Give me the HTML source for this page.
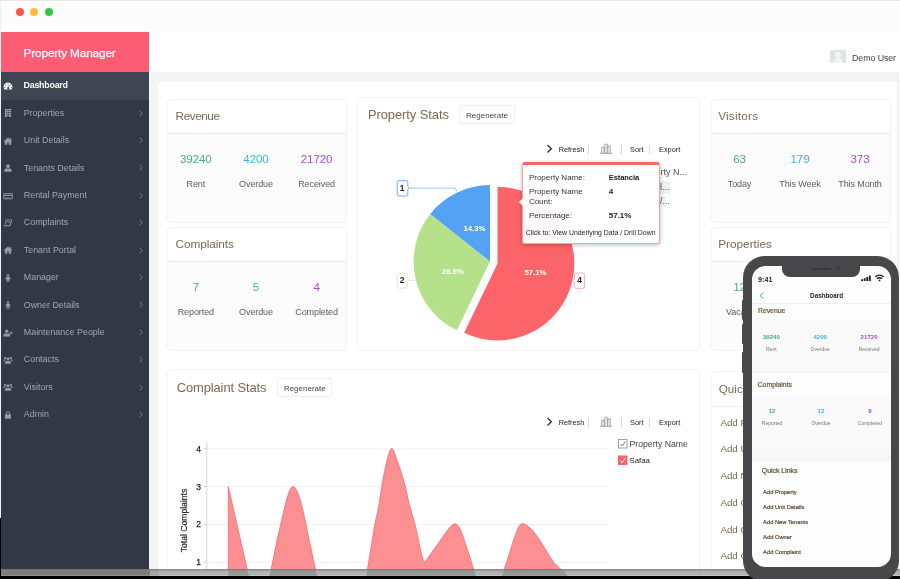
<!DOCTYPE html>
<html><head><meta charset="utf-8"><title>Property Manager</title>
<style>
*{margin:0;padding:0;box-sizing:border-box}
html,body{width:900px;height:579px;overflow:hidden}
body{position:relative;background:#f4f4f4;font-family:"Liberation Sans",sans-serif;color:#555}
.abs{position:absolute}
#w{position:absolute;left:0;top:0;width:900px;height:579px;overflow:hidden;filter:blur(0.45px);will-change:transform}
#titlebar{left:0;top:0;width:900px;height:37px;background:linear-gradient(#fcfcfc 0,#fcfcfc 30px,#fff 37px)}
.tl{position:absolute;top:8.1px;width:8.4px;height:8.4px;border-radius:50%}
#header{left:149px;top:31px;width:751px;height:41px;background:#fff}
#sidebar{left:1px;top:32px;width:148px;height:538px;background:#323846}
#brand{left:0;top:0;width:148px;height:40px;background:#fd5c75;color:#fff;font-size:11.8px;line-height:42px;padding-left:22.6px;letter-spacing:-0.15px}
.row{position:absolute;left:0;width:148px;height:27.4px;color:#a3a6ae;font-size:8.9px;line-height:28.8px;padding-left:22.5px;white-space:nowrap}
.row.act{height:27.700px;background:#3f4552;color:#fff;font-weight:bold;letter-spacing:-0.25px;line-height:27.6px}
.row .chev{position:absolute;left:137.5px;top:10.2px;width:4px;height:7px}
.row .ic{position:absolute;left:2.2px;top:9px;width:10px;height:10px;fill:#9599a3}
.row.act .ic{fill:#fff}
#main{left:157.800px;top:81.700px;width:739.200px;height:500px;background:#fff;border-radius:3px 0 0 0}
.card{position:absolute;background:#fcfcfc;border:1px solid #f3f3f3;border-radius:4px;overflow:hidden}
.card .hd{position:absolute;left:0;top:0;right:0;height:35px;background:#fff;border-bottom:1px solid #efefef}
.tt{position:absolute;font-size:13px;color:#7b6a4e;white-space:nowrap;line-height:16px}
.num{position:absolute;width:60px;margin-left:-30px;text-align:center;font-size:11.6px;line-height:14px}
.lbl{position:absolute;width:70px;margin-left:-35px;text-align:center;font-size:9px;color:#5c5c5c;line-height:12px}
.g{color:#4aa68b}.c{color:#36b5d8}.p{color:#aa47d6}
.btn{position:absolute;border:1px solid #efefef;border-radius:2px;background:#fff;font-size:8.4px;color:#444;text-align:center}
.tb{position:absolute;font-size:7.6px;color:#222;white-space:nowrap;line-height:10px}
.sep{position:absolute;width:1px;height:9px;background:#d8d8d8}
</style></head><body><div id="w">
<div id="titlebar" class="abs"><div class="tl" style="left:16.1px;background:#fc5652"></div><div class="tl" style="left:30px;background:#fdbc3f"></div><div class="tl" style="left:44.5px;background:#32c748"></div></div>
<div id="header" class="abs"></div>
<div class="abs" style="left:830.300px;top:50px;width:15.300px;height:13.400px;background:#e2e3e5;overflow:hidden"><div class="abs" style="left:4.600px;top:1.600px;width:6px;height:6.500px;border-radius:50%;background:#f5f5f6"></div><div class="abs" style="left:2.300px;top:7.600px;width:10.600px;height:10px;border-radius:5px 5px 0 0;background:#f5f5f6"></div></div>
<div class="abs" style="left:0;top:0;width:900px;height:1px;background:#e6e6e6"></div>
<div class="abs" style="left:897px;top:72px;width:2px;height:497px;background:#f0f0f0"></div><div class="abs" style="left:899px;top:72px;width:1px;height:497px;background:#fff"></div>
<div id="sidebar" class="abs"><div id="brand" class="abs"></div>
<div class="row act" style="top:40.0px"><svg class="ic" viewBox="0 0 16 16"><path d="M8 2.5a7 7 0 0 0-6 10.6c.2.3.5.4.8.4h10.4c.3 0 .6-.1.8-.4A7 7 0 0 0 8 2.5zm0 1.6a.9.9 0 1 1 0 1.8.9.9 0 0 1 0-1.8zM4.4 5.5a.9.9 0 1 1 0 1.8.9.9 0 0 1 0-1.8zm7.2 0a.9.9 0 1 1 0 1.8.9.9 0 0 1 0-1.8zM3 9.2a.9.9 0 1 1 0 1.8.9.9 0 0 1 0-1.8zm10 0a.9.9 0 1 1 0 1.8.9.9 0 0 1 0-1.8zM9.6 6.2l.9.3-1.2 3.6a1.7 1.7 0 1 1-.9-.3z"/></svg></div>
<div class="row" style="top:67.4px"><svg class="ic" viewBox="0 0 16 16"><path d="M3 1.5h10v13H9.3v-2.6H6.7v2.6H3zm2 1.8v1.6h1.6V3.300zm2.700 0v1.6h1.600V3.300zm2.700 0v1.6H12V3.300zM5 6.2v1.600h1.600V6.200zm2.700 0v1.600h1.600V6.200zm2.700 0v1.600H12V6.200zM5 9v1.600h1.600V9zm2.700 0v1.600h1.600V9zm2.700 0v1.600H12V9z"/></svg><svg class="chev" viewBox="0 0 4 7"><path d="M0.700 0.700L3.200 3.500L0.700 6.300" fill="none" stroke="#7d8290" stroke-width="0.900"/></svg></div>
<div class="row" style="top:94.8px"><svg class="ic" viewBox="0 0 16 16"><path d="M8 2.200L1 8.300l.900 1L3 8.400V14h3.800v-3.800h2.400V14H13V8.400l1.100.900.900-1-2-1.700V3h-1.800v2z"/></svg><svg class="chev" viewBox="0 0 4 7"><path d="M0.700 0.700L3.200 3.500L0.700 6.300" fill="none" stroke="#7d8290" stroke-width="0.900"/></svg></div>
<div class="row" style="top:122.2px"><svg class="ic" viewBox="0 0 16 16"><path d="M8 2a3 3 0 1 1 0 6 3 3 0 0 1 0-6zM3 14c-.6 0-1-.4-1-1 0-2.500 1.500-4.300 3.600-4.600.700.500 1.500.800 2.400.800s1.700-.300 2.400-.800C12.500 8.700 14 10.500 14 13c0 .600-.400 1-1 1z"/></svg><svg class="chev" viewBox="0 0 4 7"><path d="M0.700 0.700L3.200 3.500L0.700 6.300" fill="none" stroke="#7d8290" stroke-width="0.900"/></svg></div>
<div class="row" style="top:149.6px"><svg class="ic" viewBox="0 0 16 16"><path d="M1.500 3h13c.600 0 1 .400 1 1v8c0 .600-.400 1-1 1h-13c-.600 0-1-.400-1-1V4c0-.600.400-1 1-1zm.300 1.300v1.500h12.400V4.300zm0 3.700v3.700h12.400V8zM3 9.800h2.500v1H3zm3.500 0h3.500v1H6.500z"/></svg><svg class="chev" viewBox="0 0 4 7"><path d="M0.700 0.700L3.200 3.500L0.700 6.300" fill="none" stroke="#7d8290" stroke-width="0.900"/></svg></div>
<div class="row" style="top:177.0px"><svg class="ic" viewBox="0 0 16 16"><path d="M5.200 2.500h8.300c.900 0 1.300.700 1.100 1.400l-2.300 7.600c-.300.900-1 1.500-2 1.500H2.800c-1 0-1.800-.800-1.500-1.800l.100-.300c.100.500.600.800 1.200.800h7c.600 0 1-.300 1.200-.900l2-6.600c.100-.400-.100-.700-.500-.700H5.800L3.700 10.300H2.500l2-6.500c.200-.800.500-1.300.700-1.300zm1.300 2.500h5l-.300 1h-5zm-.600 2h5l-.300 1h-5z"/></svg><svg class="chev" viewBox="0 0 4 7"><path d="M0.700 0.700L3.200 3.500L0.700 6.300" fill="none" stroke="#7d8290" stroke-width="0.900"/></svg></div>
<div class="row" style="top:204.4px"><svg class="ic" viewBox="0 0 16 16"><path d="M8 2.200L1 8.300l.900 1L3 8.400V14h3.800v-3.800h2.400V14H13V8.400l1.100.900.900-1-2-1.700V3h-1.800v2z"/></svg><svg class="chev" viewBox="0 0 4 7"><path d="M0.700 0.700L3.200 3.500L0.700 6.300" fill="none" stroke="#7d8290" stroke-width="0.900"/></svg></div>
<div class="row" style="top:231.8px"><svg class="ic" viewBox="0 0 16 16"><path d="M8 1.500a1.800 1.800 0 1 1 0 3.600 1.800 1.800 0 0 1 0-3.600zM6 5.600h4c.900 0 1.500.600 1.500 1.500v3.200h-1.300V14.500H8.500v-3.800h-1v3.800H5.800v-4.200H4.500V7.100c0-.900.600-1.500 1.500-1.500z"/></svg><svg class="chev" viewBox="0 0 4 7"><path d="M0.700 0.700L3.200 3.500L0.700 6.300" fill="none" stroke="#7d8290" stroke-width="0.900"/></svg></div>
<div class="row" style="top:259.2px"><svg class="ic" viewBox="0 0 16 16"><path d="M8 1.500a1.800 1.800 0 1 1 0 3.600 1.800 1.800 0 0 1 0-3.600zM6 5.600h4c.900 0 1.500.600 1.500 1.500v3.200h-1.300V14.500H8.500v-3.800h-1v3.800H5.800v-4.200H4.500V7.100c0-.900.600-1.500 1.500-1.500z"/></svg><svg class="chev" viewBox="0 0 4 7"><path d="M0.700 0.700L3.200 3.500L0.700 6.300" fill="none" stroke="#7d8290" stroke-width="0.900"/></svg></div>
<div class="row" style="top:286.6px"><svg class="ic" viewBox="0 0 16 16"><path d="M6 2.500a2.800 2.800 0 1 1 0 5.600A2.800 2.800 0 0 1 6 2.500zM1.500 13.500c-.500 0-.900-.400-.900-.900 0-2.300 1.300-3.900 3.200-4.200.600.500 1.400.700 2.200.700s1.600-.200 2.200-.700c1.900.300 3.200 1.900 3.200 4.200 0 .500-.400.900-.900.900zM12.300 5.500h1.400v1.800h1.800v1.400h-1.800v1.800h-1.400V8.700h-1.800V7.300h1.800z"/></svg><svg class="chev" viewBox="0 0 4 7"><path d="M0.700 0.700L3.200 3.500L0.700 6.300" fill="none" stroke="#7d8290" stroke-width="0.900"/></svg></div>
<div class="row" style="top:314.0px"><svg class="ic" viewBox="0 0 16 16"><path d="M8 3.500a2.500 2.500 0 1 1 0 5 2.500 2.500 0 0 1 0-5zM3.300 3a1.800 1.800 0 1 1 0 3.600 1.800 1.800 0 0 1 0-3.600zm9.400 0a1.800 1.800 0 1 1 0 3.600 1.800 1.800 0 0 1 0-3.600zM4 14c-.600 0-1-.400-1-1 0-2.200 1.200-3.700 2.900-4 .600.500 1.300.700 2.100.700s1.500-.200 2.100-.700c1.700.300 2.900 1.800 2.900 4 0 .600-.400 1-1 1zM.500 9.500c0-1.500.800-2.500 2-2.700.400.300.800.400 1.300.400-.700.700-1.200 1.500-1.400 2.600H1.200c-.400 0-.700-.100-.700-.300zm15 0c0 .200-.300.300-.700.300h-1.200c-.200-1.100-.700-1.900-1.400-2.600.500 0 .900-.100 1.300-.400 1.200.200 2 1.200 2 2.700z"/></svg><svg class="chev" viewBox="0 0 4 7"><path d="M0.700 0.700L3.200 3.500L0.700 6.300" fill="none" stroke="#7d8290" stroke-width="0.900"/></svg></div>
<div class="row" style="top:341.4px"><svg class="ic" viewBox="0 0 16 16"><path d="M8 3.500a2.500 2.500 0 1 1 0 5 2.500 2.500 0 0 1 0-5zM3.300 3a1.800 1.800 0 1 1 0 3.600 1.800 1.800 0 0 1 0-3.600zm9.400 0a1.800 1.800 0 1 1 0 3.600 1.800 1.800 0 0 1 0-3.600zM4 14c-.600 0-1-.400-1-1 0-2.200 1.200-3.700 2.900-4 .600.500 1.300.700 2.100.700s1.500-.200 2.100-.700c1.700.300 2.900 1.800 2.900 4 0 .600-.400 1-1 1zM.500 9.500c0-1.500.800-2.500 2-2.700.400.300.800.400 1.300.400-.700.700-1.200 1.500-1.400 2.600H1.200c-.400 0-.700-.100-.700-.300zm15 0c0 .200-.300.300-.700.300h-1.200c-.200-1.100-.700-1.900-1.400-2.600.500 0 .900-.100 1.300-.400 1.200.200 2 1.200 2 2.700z"/></svg><svg class="chev" viewBox="0 0 4 7"><path d="M0.700 0.700L3.200 3.500L0.700 6.300" fill="none" stroke="#7d8290" stroke-width="0.900"/></svg></div>
<div class="row" style="top:368.8px"><svg class="ic" viewBox="0 0 16 16"><path d="M8 1.800c1.900 0 3.300 1.400 3.300 3.300V7h.700c.500 0 .900.400.900.900v5c0 .500-.400.900-.900.900H4c-.500 0-.900-.400-.900-.900v-5c0-.500.400-.900.900-.900h.700V5.100C4.700 3.200 6.100 1.800 8 1.800zm0 1.600c-1 0-1.700.700-1.700 1.700V7h3.400V5.100c0-1-.700-1.700-1.700-1.700z"/></svg><svg class="chev" viewBox="0 0 4 7"><path d="M0.700 0.700L3.200 3.500L0.700 6.300" fill="none" stroke="#7d8290" stroke-width="0.900"/></svg></div>
</div>
<div id="main" class="abs"></div>
<div class="card" style="left:167px;top:98.8px;width:180px;height:124px"><div class="hd" style="height:34.5px"></div></div>
<div class="abs" style="left:175.60px;top:109px;font-size:11.8px;line-height:14px;color:#7b6a4e;font-weight:normal;white-space:nowrap;letter-spacing:-0.48px;">Revenue</div>
<div class="abs" style="left:45.85px;width:300px;text-align:center;top:153px;font-size:11.6px;line-height:12px;color:#4aa68b;font-weight:normal;white-space:nowrap;letter-spacing:-0.1px;">39240</div>
<div class="abs" style="left:45.85px;width:300px;text-align:center;top:179px;font-size:9px;line-height:10px;color:#5c5c5c;font-weight:normal;white-space:nowrap;letter-spacing:-0.1px;">Rent</div>
<div class="abs" style="left:106.00px;width:300px;text-align:center;top:153px;font-size:11.6px;line-height:12px;color:#36b5d8;font-weight:normal;white-space:nowrap;letter-spacing:-0.1px;">4200</div>
<div class="abs" style="left:106.00px;width:300px;text-align:center;top:179px;font-size:9px;line-height:10px;color:#5c5c5c;font-weight:normal;white-space:nowrap;letter-spacing:-0.1px;">Overdue</div>
<div class="abs" style="left:166.60px;width:300px;text-align:center;top:153px;font-size:11.6px;line-height:12px;color:#aa47d6;font-weight:normal;white-space:nowrap;letter-spacing:-0.1px;">21720</div>
<div class="abs" style="left:166.60px;width:300px;text-align:center;top:179px;font-size:9px;line-height:10px;color:#5c5c5c;font-weight:normal;white-space:nowrap;letter-spacing:-0.1px;">Received</div>
<div class="card" style="left:167px;top:226.6px;width:180px;height:124px"><div class="hd" style="height:34.5px"></div></div>
<div class="abs" style="left:175.60px;top:237px;font-size:11.8px;line-height:14px;color:#7b6a4e;font-weight:normal;white-space:nowrap;letter-spacing:-0.07px;">Complaints</div>
<div class="abs" style="left:45.85px;width:300px;text-align:center;top:281px;font-size:11.6px;line-height:12px;color:#4aa68b;font-weight:normal;white-space:nowrap;letter-spacing:-0.1px;">7</div>
<div class="abs" style="left:45.85px;width:300px;text-align:center;top:307px;font-size:9px;line-height:10px;color:#5c5c5c;font-weight:normal;white-space:nowrap;letter-spacing:-0.1px;">Reported</div>
<div class="abs" style="left:106.00px;width:300px;text-align:center;top:281px;font-size:11.6px;line-height:12px;color:#36b5d8;font-weight:normal;white-space:nowrap;letter-spacing:-0.1px;">5</div>
<div class="abs" style="left:106.00px;width:300px;text-align:center;top:307px;font-size:9px;line-height:10px;color:#5c5c5c;font-weight:normal;white-space:nowrap;letter-spacing:-0.1px;">Overdue</div>
<div class="abs" style="left:166.60px;width:300px;text-align:center;top:281px;font-size:11.6px;line-height:12px;color:#aa47d6;font-weight:normal;white-space:nowrap;letter-spacing:-0.1px;">4</div>
<div class="abs" style="left:166.60px;width:300px;text-align:center;top:307px;font-size:9px;line-height:10px;color:#5c5c5c;font-weight:normal;white-space:nowrap;letter-spacing:-0.1px;">Completed</div>
<div class="card" style="left:710.5px;top:98.8px;width:180px;height:124px"><div class="hd" style="height:34.5px"></div></div>
<div class="abs" style="left:718.20px;top:109px;font-size:11.8px;line-height:14px;color:#7b6a4e;font-weight:normal;white-space:nowrap;letter-spacing:0.2px;">Visitors</div>
<div class="abs" style="left:589.50px;width:300px;text-align:center;top:153px;font-size:11.6px;line-height:12px;color:#4aa68b;font-weight:normal;white-space:nowrap;letter-spacing:-0.1px;">63</div>
<div class="abs" style="left:589.50px;width:300px;text-align:center;top:179px;font-size:9px;line-height:10px;color:#5c5c5c;font-weight:normal;white-space:nowrap;letter-spacing:-0.1px;">Today</div>
<div class="abs" style="left:650.00px;width:300px;text-align:center;top:153px;font-size:11.6px;line-height:12px;color:#36b5d8;font-weight:normal;white-space:nowrap;letter-spacing:-0.1px;">179</div>
<div class="abs" style="left:650.00px;width:300px;text-align:center;top:179px;font-size:9px;line-height:10px;color:#5c5c5c;font-weight:normal;white-space:nowrap;letter-spacing:-0.1px;">This Week</div>
<div class="abs" style="left:710.00px;width:300px;text-align:center;top:153px;font-size:11.6px;line-height:12px;color:#aa47d6;font-weight:normal;white-space:nowrap;letter-spacing:-0.1px;">373</div>
<div class="abs" style="left:710.00px;width:300px;text-align:center;top:179px;font-size:9px;line-height:10px;color:#5c5c5c;font-weight:normal;white-space:nowrap;letter-spacing:-0.1px;">This Month</div>
<div class="card" style="left:710.5px;top:226.5px;width:180px;height:124px"><div class="hd" style="height:34.5px"></div></div>
<div class="abs" style="left:718.20px;top:237px;font-size:11.8px;line-height:14px;color:#7b6a4e;font-weight:normal;white-space:nowrap;">Properties</div>
<div class="abs" style="left:589.50px;width:300px;text-align:center;top:281px;font-size:11.6px;line-height:12px;color:#4aa68b;font-weight:normal;white-space:nowrap;letter-spacing:-0.1px;">12</div>
<div class="abs" style="left:589.50px;width:300px;text-align:center;top:307px;font-size:9px;line-height:10px;color:#5c5c5c;font-weight:normal;white-space:nowrap;letter-spacing:-0.1px;">Vacant</div>
<div class="abs" style="left:650.00px;width:300px;text-align:center;top:281px;font-size:11.6px;line-height:12px;color:#36b5d8;font-weight:normal;white-space:nowrap;letter-spacing:-0.1px;">5</div>
<div class="abs" style="left:650.00px;width:300px;text-align:center;top:307px;font-size:9px;line-height:10px;color:#5c5c5c;font-weight:normal;white-space:nowrap;letter-spacing:-0.1px;">Occupied</div>
<div class="abs" style="left:710.00px;width:300px;text-align:center;top:281px;font-size:11.6px;line-height:12px;color:#aa47d6;font-weight:normal;white-space:nowrap;letter-spacing:-0.1px;">17</div>
<div class="abs" style="left:710.00px;width:300px;text-align:center;top:307px;font-size:9px;line-height:10px;color:#5c5c5c;font-weight:normal;white-space:nowrap;letter-spacing:-0.1px;">Total</div>
<div class="abs" style="left:23.60px;top:46px;font-size:11.8px;line-height:14px;color:#fff;font-weight:normal;white-space:nowrap;letter-spacing:-0.15px;-webkit-text-stroke:0.250px #fff">Property Manager</div>
<div class="abs" style="left:23.60px;top:80px;font-size:8.9px;line-height:10px;color:#fff;font-weight:bold;white-space:nowrap;letter-spacing:-0.25px;">Dashboard</div>
<div class="abs" style="left:23.80px;top:108px;font-size:8.9px;line-height:10px;color:#a3a6ae;font-weight:normal;white-space:nowrap;">Properties</div>
<div class="abs" style="left:23.80px;top:135px;font-size:8.9px;line-height:10px;color:#a3a6ae;font-weight:normal;white-space:nowrap;">Unit Details</div>
<div class="abs" style="left:23.80px;top:163px;font-size:8.9px;line-height:10px;color:#a3a6ae;font-weight:normal;white-space:nowrap;">Tenants Details</div>
<div class="abs" style="left:23.80px;top:190px;font-size:8.9px;line-height:10px;color:#a3a6ae;font-weight:normal;white-space:nowrap;">Rental Payment</div>
<div class="abs" style="left:23.80px;top:217px;font-size:8.9px;line-height:10px;color:#a3a6ae;font-weight:normal;white-space:nowrap;">Complaints</div>
<div class="abs" style="left:23.80px;top:245px;font-size:8.9px;line-height:10px;color:#a3a6ae;font-weight:normal;white-space:nowrap;">Tenant Portal</div>
<div class="abs" style="left:23.80px;top:272px;font-size:8.9px;line-height:10px;color:#a3a6ae;font-weight:normal;white-space:nowrap;">Manager</div>
<div class="abs" style="left:23.80px;top:300px;font-size:8.9px;line-height:10px;color:#a3a6ae;font-weight:normal;white-space:nowrap;">Owner Details</div>
<div class="abs" style="left:23.80px;top:327px;font-size:8.9px;line-height:10px;color:#a3a6ae;font-weight:normal;white-space:nowrap;">Maintenance People</div>
<div class="abs" style="left:23.80px;top:354px;font-size:8.9px;line-height:10px;color:#a3a6ae;font-weight:normal;white-space:nowrap;">Contacts</div>
<div class="abs" style="left:23.80px;top:382px;font-size:8.9px;line-height:10px;color:#a3a6ae;font-weight:normal;white-space:nowrap;">Visitors</div>
<div class="abs" style="left:23.80px;top:409px;font-size:8.9px;line-height:10px;color:#a3a6ae;font-weight:normal;white-space:nowrap;">Admin</div>
<div class="abs" style="left:852.00px;top:53px;font-size:8.9px;line-height:10px;color:#444;font-weight:normal;white-space:nowrap;letter-spacing:-0.1px;">Demo User</div>
<div class="card" style="left:357px;top:97px;width:343px;height:254px;background:#fff"></div>
<div class="abs" style="left:367.90px;top:107px;font-size:12.9px;line-height:15px;color:#7b6a4e;font-weight:normal;white-space:nowrap;letter-spacing:-0.05px;">Property Stats</div>
<div class="btn" style="left:459.400px;top:104.600px;width:55.200px;height:19.600px"></div>
<div class="abs" style="left:466.10px;top:111px;font-size:8px;line-height:9px;color:#444;font-weight:normal;white-space:nowrap;">Regenerate</div>
<svg class="abs" style="left:546px;top:144.3px;width:7px;height:9.400px" viewBox="0 0 7 9.400"><path d="M1.500 0.900L5.300 4.700L1.500 8.500" fill="none" stroke="#333" stroke-width="1.400"/></svg>
<div class="abs" style="left:558.70px;top:145px;font-size:7.3px;line-height:9px;color:#222;font-weight:normal;white-space:nowrap;">Refresh</div>
<div class="sep" style="left:588px;top:144.8px"></div>
<svg class="abs" style="left:600px;top:143px;width:12px;height:11px" viewBox="0 0 12 11"><path d="M0 10.300h12M1.800 10.300V4.300h2.300v6M4.800 10.300V1.200h2.400v9.100M7.900 10.300V3h2.300v7.300" fill="none" stroke="#999" stroke-width="0.900"/></svg>
<div class="sep" style="left:620.500px;top:144.8px"></div>
<div class="abs" style="left:630.10px;top:145px;font-size:7.3px;line-height:9px;color:#222;font-weight:normal;white-space:nowrap;">Sort</div>
<div class="sep" style="left:649px;top:144.8px"></div>
<div class="abs" style="left:659.10px;top:145px;font-size:7.3px;line-height:9px;color:#222;font-weight:normal;white-space:nowrap;">Export</div>
<div class="abs" style="left:636.50px;top:167px;font-size:9px;line-height:10px;color:#555;font-weight:normal;white-space:nowrap;">Property N...</div>
<div class="abs" style="left:622px;top:181px;width:48px;height:12.500px;background:#efefef"></div>
<div class="abs" style="left:660.00px;top:182px;font-size:9px;line-height:10px;color:#555;font-weight:normal;white-space:nowrap;">l...</div>
<div class="abs" style="left:630px;top:196px;width:36px;height:11px;background:#f4f4f4"></div>
<div class="abs" style="left:660.00px;top:196px;font-size:9px;line-height:10px;color:#555;font-weight:normal;white-space:nowrap;">/...</div>
<div class="abs" style="left:624px;top:212px;width:36px;height:6px;background:#f3f3f3"></div>
<svg class="abs" style="left:0;top:0;width:900px;height:579px" viewBox="0 0 900 579">
<path d="M497.50 263.60L497.50 186.80A76.8 76.8 0 1 1 464.19 332.80Z" fill="#fb6468"/>
<path d="M490.00 261.50L456.86 330.34A76.4 76.4 0 0 1 430.26 213.88Z" fill="#b6e18b"/>
<path d="M490.00 261.50L430.26 213.88A76.4 76.4 0 0 1 490.00 185.10Z" fill="#53a2f4"/>
<path d="M408 188.200H455.300L456.800 191.500" fill="none" stroke="#86bbf5" stroke-width="0.800"/>
<path d="M399 180.600h7a1.800 1.800 0 0 1 1.800 1.800v4.300l1.300 1.500l-1.300 1.500v4.500a1.800 1.800 0 0 1 -1.800 1.800h-7a1.800 1.800 0 0 1 -1.800 -1.800v-11.800a1.800 1.800 0 0 1 1.800 -1.800z" fill="#fff" stroke="#6dadf4" stroke-width="1"/>
<path d="M408.500 280.300H415" fill="none" stroke="#d5e8bd" stroke-width="0.800"/>
<path d="M399 273.200h6.600a1.800 1.800 0 0 1 1.800 1.800v3.800l1.300 1.500l-1.300 1.500v4.600a1.800 1.800 0 0 1 -1.800 1.800h-6.600a1.800 1.800 0 0 1 -1.800 -1.800v-11.400a1.800 1.800 0 0 1 1.800 -1.800z" fill="#fff" stroke="#dde9c8" stroke-width="0.900"/>
<path d="M576.200 273h6.600a1.800 1.800 0 0 1 1.800 1.800v11.800a1.800 1.800 0 0 1 -1.800 1.800h-6.600a1.800 1.800 0 0 1 -1.800 -1.800v-4.500l-1.400 -1.500l1.400 -1.500v-4.300a1.800 1.800 0 0 1 1.800 -1.800z" fill="#fff" stroke="#f2a9ac" stroke-width="0.900"/>
<g font-family="Liberation Sans, sans-serif" font-size="8.400" font-weight="bold" fill="#222" text-anchor="middle"><text x="402.200" y="190.900">1</text><text x="402.100" y="283.300">2</text><text x="579.700" y="283.200">4</text></g>
<g font-family="Liberation Sans, sans-serif" font-size="7.800" font-weight="bold" fill="#fff" text-anchor="middle"><text x="474.500" y="230.500">14.3%</text><text x="453" y="274">28.6%</text><text x="535.500" y="275">57.1%</text></g>
</svg>
<div class="abs" style="left:522px;top:162.300px;width:138px;height:81.700px;background:rgba(255,255,255,0.965);border:1px solid #f4a3a5;border-top:3px solid #f2686c;border-radius:3px;box-shadow:0 1px 4px rgba(0,0,0,0.280)"></div>
<div class="abs" style="left:518.500px;top:198px;width:0;height:0;border-top:4px solid transparent;border-bottom:4px solid transparent;border-right:4px solid #fff"></div>
<div class="abs" style="left:528.90px;top:173px;font-size:8px;line-height:9px;color:#333;font-weight:normal;white-space:nowrap;">Property Name:</div>
<div class="abs" style="left:608.70px;top:173px;font-size:7.6px;line-height:9px;color:#222;font-weight:bold;white-space:nowrap;letter-spacing:-0.1px;">Estancia</div>
<div class="abs" style="left:528.90px;top:187px;font-size:8px;line-height:9px;color:#333;font-weight:normal;white-space:nowrap;">Property Name</div>
<div class="abs" style="left:608.70px;top:187px;font-size:8px;line-height:9px;color:#222;font-weight:bold;white-space:nowrap;">4</div>
<div class="abs" style="left:528.90px;top:197px;font-size:8px;line-height:9px;color:#333;font-weight:normal;white-space:nowrap;">Count:</div>
<div class="abs" style="left:528.90px;top:211px;font-size:8px;line-height:9px;color:#333;font-weight:normal;white-space:nowrap;">Percentage:</div>
<div class="abs" style="left:608.70px;top:211px;font-size:8px;line-height:9px;color:#222;font-weight:bold;white-space:nowrap;">57.1%</div>
<div class="abs" style="left:525.80px;top:229px;font-size:6.9px;line-height:7px;color:#222;font-weight:normal;white-space:nowrap;">Click to: View Underlying Data / Drill Down</div>
<div class="card" style="left:167px;top:369px;width:533px;height:230px;background:#fff"></div>
<div class="abs" style="left:176.80px;top:380px;font-size:12.9px;line-height:15px;color:#7b6a4e;font-weight:normal;white-space:nowrap;letter-spacing:-0.1px;">Complaint Stats</div>
<div class="btn" style="left:276.600px;top:377.700px;width:55.500px;height:19.500px"></div>
<div class="abs" style="left:283.90px;top:384px;font-size:8px;line-height:9px;color:#444;font-weight:normal;white-space:nowrap;">Regenerate</div>
<svg class="abs" style="left:546px;top:417.3px;width:7px;height:9.400px" viewBox="0 0 7 9.400"><path d="M1.500 0.900L5.300 4.700L1.500 8.500" fill="none" stroke="#333" stroke-width="1.400"/></svg>
<div class="abs" style="left:558.70px;top:418px;font-size:7.3px;line-height:9px;color:#222;font-weight:normal;white-space:nowrap;">Refresh</div>
<div class="sep" style="left:588px;top:417.8px"></div>
<svg class="abs" style="left:600px;top:416px;width:12px;height:11px" viewBox="0 0 12 11"><path d="M0 10.300h12M1.800 10.300V4.300h2.300v6M4.800 10.300V1.200h2.400v9.100M7.900 10.300V3h2.300v7.300" fill="none" stroke="#999" stroke-width="0.900"/></svg>
<div class="sep" style="left:620.500px;top:417.8px"></div>
<div class="abs" style="left:630.10px;top:418px;font-size:7.3px;line-height:9px;color:#222;font-weight:normal;white-space:nowrap;">Sort</div>
<div class="sep" style="left:649px;top:417.8px"></div>
<div class="abs" style="left:659.10px;top:418px;font-size:7.3px;line-height:9px;color:#222;font-weight:normal;white-space:nowrap;">Export</div>
<svg class="abs" style="left:0;top:0;width:900px;height:579px" viewBox="0 0 900 579">
<path d="M207 562.2H608" stroke="#f0f0f0" stroke-width="1"/><path d="M204 562.2H207" stroke="#ccc" stroke-width="1"/>
<path d="M207 524.4H608" stroke="#f0f0f0" stroke-width="1"/><path d="M204 524.4H207" stroke="#ccc" stroke-width="1"/>
<path d="M207 486.6H608" stroke="#f0f0f0" stroke-width="1"/><path d="M204 486.6H207" stroke="#ccc" stroke-width="1"/>
<path d="M207 448.8H608" stroke="#f0f0f0" stroke-width="1"/><path d="M204 448.8H207" stroke="#ccc" stroke-width="1"/>
<path d="M206.800 441.300V579" stroke="#d8d8d8" stroke-width="1"/>
<path d="M228.300 600.0L228.300 486.6L247.100 568.600L254.500 600.0Z" fill="#fc8f92" stroke="#f06b70" stroke-width="0.800"/>
<path d="M264.8 600.0C265.9 594.8 269.3 578.1 271.3 568.5C273.3 558.9 275.1 549.4 276.7 542.1C278.2 534.8 279.3 530.4 280.6 524.7C281.9 519.0 283.3 512.9 284.5 508.0C285.7 503.1 286.9 498.7 287.9 495.5C288.9 492.3 289.7 490.1 290.6 488.6C291.5 487.1 292.3 486.5 293.1 486.5C293.9 486.5 294.7 487.1 295.6 488.6C296.6 490.1 297.7 492.3 298.8 495.5C299.9 498.7 301.2 503.1 302.4 508.0C303.6 512.9 304.8 519.0 306.0 524.7C307.2 530.4 308.1 534.8 309.7 542.1C311.2 549.4 313.2 558.9 315.3 568.5C317.4 578.1 320.9 594.8 322.0 600.0Z" fill="#fc8f92" stroke="#f06b70" stroke-width="0.800"/>
<path d="M362.5 600.0C363.6 593.3 366.9 572.5 369.0 560.0C371.1 547.5 373.3 533.1 374.8 524.7C376.3 516.3 376.9 515.9 378.1 509.5C379.3 503.1 380.7 493.1 381.8 486.5C382.9 479.9 383.8 474.9 384.8 470.2C385.8 465.5 386.8 461.3 387.6 458.1C388.4 454.9 389.1 452.6 389.8 451.0C390.5 449.4 391.0 448.5 391.7 448.5C392.4 448.5 393.0 449.4 393.8 451.0C394.6 452.6 395.2 454.9 396.3 458.1C397.4 461.3 399.0 465.5 400.5 470.2C402.0 474.9 404.0 481.4 405.3 486.5C406.6 491.6 407.5 496.7 408.4 500.5C409.3 504.3 409.6 505.1 410.8 509.5C412.0 513.9 414.2 521.1 415.6 526.8C417.0 532.5 418.2 538.7 419.3 543.7C420.4 548.7 421.4 553.9 422.3 557.0C423.2 560.1 424.1 561.5 424.5 562.4C424.9 561.9 425.9 560.8 426.8 559.5C427.7 558.2 428.0 557.5 429.9 554.9C431.8 552.3 435.3 547.5 438.0 543.7C440.7 540.0 443.8 535.2 445.9 532.4C448.0 529.6 449.2 528.1 450.4 526.8C451.6 525.5 452.2 525.0 453.0 524.5C453.8 524.0 454.4 523.8 455.1 523.8C455.8 523.8 456.4 524.1 457.0 524.6C457.6 525.1 458.0 525.5 458.8 526.8C459.6 528.1 460.5 529.6 461.6 532.4C462.7 535.2 464.2 540.0 465.5 543.7C466.8 547.5 467.9 550.8 469.2 554.9C470.5 559.0 471.1 560.9 473.4 568.4C475.7 575.9 481.4 594.7 483.0 600.0Z" fill="#fc8f92" stroke="#f06b70" stroke-width="0.800"/>
<path d="M495.0 600.0C496.6 594.7 502.2 575.9 504.5 568.4C506.8 560.9 507.7 559.0 509.0 554.9C510.3 550.8 511.2 547.5 512.4 543.7C513.6 540.0 515.2 535.2 516.3 532.4C517.4 529.6 518.0 528.1 518.8 526.8C519.5 525.4 520.1 524.8 520.8 524.3C521.5 523.8 522.0 523.7 522.8 523.7C523.6 523.8 524.5 524.1 525.5 524.6C526.5 525.1 527.2 525.5 528.7 526.8C530.2 528.1 532.1 529.6 534.3 532.4C536.5 535.2 539.7 540.0 542.1 543.7C544.5 547.5 546.9 551.8 548.9 554.9C550.9 558.0 552.1 560.1 553.9 562.4C555.7 564.6 557.9 566.5 559.9 568.4C561.9 570.3 562.6 568.7 566.0 574.0C569.4 579.3 577.7 595.7 580.0 600.0Z" fill="#fc8f92" stroke="#f06b70" stroke-width="0.800"/>
<g font-family="Liberation Sans, sans-serif" font-size="8.500" fill="#222" stroke="#222" stroke-width="0.250" text-anchor="middle">
<text x="198.500" y="565.2">1</text>
<text x="198.500" y="527.4">2</text>
<text x="198.500" y="489.6">3</text>
<text x="198.500" y="451.8">4</text>
</g>
<text transform="translate(187.300,520.500) rotate(-90)" font-family="Liberation Sans, sans-serif" font-size="8.600" fill="#222" stroke="#222" stroke-width="0.150" text-anchor="middle">Total Complaints</text>
<rect x="618.500" y="439.500" width="8.500" height="8.500" fill="#fff" stroke="#888" stroke-width="0.800"/><path d="M620.500 444L622.300 446L625.300 441.500" fill="none" stroke="#555" stroke-width="0.800"/>
<rect x="618" y="455.500" width="9.500" height="9.500" fill="#f4666b"/><path d="M620.500 460.500L622.300 462.500L625.300 458" fill="none" stroke="#fff" stroke-width="0.900"/>
<g font-family="Liberation Sans, sans-serif" fill="#444"><text x="629.500" y="447.300" font-size="8.700">Property Name</text><text x="629.500" y="462.700" font-size="7.800" fill="#222">Safaa</text></g>
</svg>
<div class="card" style="left:710.500px;top:370.800px;width:180px;height:230px;background:#fff"><div class="hd" style="height:35px"></div></div>
<div class="abs" style="left:718.70px;top:382px;font-size:11.7px;line-height:13px;color:#7b6a4e;font-weight:normal;white-space:nowrap;">Quick Links</div>
<div class="abs" style="left:720.40px;top:417px;font-size:9.8px;line-height:11px;color:#7b6a4e;font-weight:normal;white-space:nowrap;">Add Property</div>
<div class="abs" style="left:720.40px;top:443px;font-size:9.8px;line-height:11px;color:#7b6a4e;font-weight:normal;white-space:nowrap;">Add Unit Details</div>
<div class="abs" style="left:720.40px;top:470px;font-size:9.8px;line-height:11px;color:#7b6a4e;font-weight:normal;white-space:nowrap;">Add New Tenants</div>
<div class="abs" style="left:720.40px;top:497px;font-size:9.8px;line-height:11px;color:#7b6a4e;font-weight:normal;white-space:nowrap;">Add Owner</div>
<div class="abs" style="left:720.40px;top:524px;font-size:9.8px;line-height:11px;color:#7b6a4e;font-weight:normal;white-space:nowrap;">Add Owner</div>
<div class="abs" style="left:720.40px;top:550px;font-size:9.8px;line-height:11px;color:#7b6a4e;font-weight:normal;white-space:nowrap;">Add Complaint</div>
<svg class="abs" style="left:0;top:0;width:900px;height:579px" viewBox="0 0 900 579"><defs><clipPath id="bb"><rect x="0" y="569.200" width="900" height="6.600"/></clipPath></defs><g clip-path="url(#bb)">
<rect x="0" y="569" width="900" height="7" fill="#b3b3b3"/><rect x="0" y="569" width="150" height="7" fill="#7c7c7c"/><rect x="150" y="569" width="9" height="7" fill="#a6a6a6"/>
<path d="M228.300 600.0L228.300 486.6L247.100 568.600L254.500 600.0Z" fill="#989898"/>
<path d="M264.8 600.0C265.9 594.8 269.3 578.1 271.3 568.5C273.3 558.9 275.1 549.4 276.7 542.1C278.2 534.8 279.3 530.4 280.6 524.7C281.9 519.0 283.3 512.9 284.5 508.0C285.7 503.1 286.9 498.7 287.9 495.5C288.9 492.3 289.7 490.1 290.6 488.6C291.5 487.1 292.3 486.5 293.1 486.5C293.9 486.5 294.7 487.1 295.6 488.6C296.6 490.1 297.7 492.3 298.8 495.5C299.9 498.7 301.2 503.1 302.4 508.0C303.6 512.9 304.8 519.0 306.0 524.7C307.2 530.4 308.1 534.8 309.7 542.1C311.2 549.4 313.2 558.9 315.3 568.5C317.4 578.1 320.9 594.8 322.0 600.0Z" fill="#989898"/>
<path d="M362.5 600.0C363.6 593.3 366.9 572.5 369.0 560.0C371.1 547.5 373.3 533.1 374.8 524.7C376.3 516.3 376.9 515.9 378.1 509.5C379.3 503.1 380.7 493.1 381.8 486.5C382.9 479.9 383.8 474.9 384.8 470.2C385.8 465.5 386.8 461.3 387.6 458.1C388.4 454.9 389.1 452.6 389.8 451.0C390.5 449.4 391.0 448.5 391.7 448.5C392.4 448.5 393.0 449.4 393.8 451.0C394.6 452.6 395.2 454.9 396.3 458.1C397.4 461.3 399.0 465.5 400.5 470.2C402.0 474.9 404.0 481.4 405.3 486.5C406.6 491.6 407.5 496.7 408.4 500.5C409.3 504.3 409.6 505.1 410.8 509.5C412.0 513.9 414.2 521.1 415.6 526.8C417.0 532.5 418.2 538.7 419.3 543.7C420.4 548.7 421.4 553.9 422.3 557.0C423.2 560.1 424.1 561.5 424.5 562.4C424.9 561.9 425.9 560.8 426.8 559.5C427.7 558.2 428.0 557.5 429.9 554.9C431.8 552.3 435.3 547.5 438.0 543.7C440.7 540.0 443.8 535.2 445.9 532.4C448.0 529.6 449.2 528.1 450.4 526.8C451.6 525.5 452.2 525.0 453.0 524.5C453.8 524.0 454.4 523.8 455.1 523.8C455.8 523.8 456.4 524.1 457.0 524.6C457.6 525.1 458.0 525.5 458.8 526.8C459.6 528.1 460.5 529.6 461.6 532.4C462.7 535.2 464.2 540.0 465.5 543.7C466.8 547.5 467.9 550.8 469.2 554.9C470.5 559.0 471.1 560.9 473.4 568.4C475.7 575.9 481.4 594.7 483.0 600.0Z" fill="#989898"/>
<path d="M495.0 600.0C496.6 594.7 502.2 575.9 504.5 568.4C506.8 560.9 507.7 559.0 509.0 554.9C510.3 550.8 511.2 547.5 512.4 543.7C513.6 540.0 515.2 535.2 516.3 532.4C517.4 529.6 518.0 528.1 518.8 526.8C519.5 525.4 520.1 524.8 520.8 524.3C521.5 523.8 522.0 523.7 522.8 523.7C523.6 523.8 524.5 524.1 525.5 524.6C526.5 525.1 527.2 525.5 528.7 526.8C530.2 528.1 532.1 529.6 534.3 532.4C536.5 535.2 539.7 540.0 542.1 543.7C544.5 547.5 546.9 551.8 548.9 554.9C550.9 558.0 552.1 560.1 553.9 562.4C555.7 564.6 557.9 566.5 559.9 568.4C561.9 570.3 562.6 568.7 566.0 574.0C569.4 579.3 577.7 595.7 580.0 600.0Z" fill="#989898"/>
<rect x="0" y="569" width="900" height="1.200" fill="#6a6a6a" opacity="0.800"/><rect x="0" y="570.200" width="900" height="1" fill="#888" opacity="0.400"/>
</g></svg>
<div class="abs" style="left:0;top:575.600px;width:900px;height:4px;background:#000"></div>
<div class="abs" style="left:0;top:0;width:1px;height:518px;background:#f0f0f0"></div><div class="abs" style="left:0;top:518px;width:1px;height:61px;background:#000"></div>
<div class="abs" style="left:743.300px;top:256.400px;width:156px;height:326px;background:#48484a;border-radius:21.500px"></div>
<div class="abs" style="left:741.700px;top:300.2px;width:3px;height:20px;background:#48484a;border-radius:1px"></div>
<div class="abs" style="left:741.700px;top:323.8px;width:3px;height:20.7px;background:#48484a;border-radius:1px"></div>
<div class="abs" style="left:741.700px;top:352.2px;width:3px;height:21px;background:#48484a;border-radius:1px"></div>
<div class="abs" style="left:752px;top:265.500px;width:139px;height:301.500px;background:#fdfdfd;border-radius:13.300px;overflow:hidden" id="scr">
<div class="abs" style="left:-752px;top:-265.500px;width:900px;height:579px">
<div class="abs" style="left:752px;top:319.500px;width:139px;height:53px;background:#f9f9f9;border-bottom:1px solid #f0f0f0"></div>
<div class="abs" style="left:752px;top:394px;width:139px;height:49px;background:#fafafa"></div>
<div class="abs" style="left:752px;top:443px;width:139px;height:19px;background:linear-gradient(#fafafa,#f5f5f5)"></div>
<div class="abs" style="left:752px;top:303px;width:139px;height:1px;background:#eeeeee"></div>
<div class="abs" style="left:758.00px;top:275px;font-size:7.2px;line-height:9px;color:#222;font-weight:bold;white-space:nowrap;">9:41</div>
<svg class="abs" style="left:861px;top:274px;width:24px;height:8px" viewBox="0 0 24 8"><path d="M0.100 5.300h1.900V7H0.100zM2.700 4.200h1.900V7H2.700zM5.300 2.900h1.900V7H5.300zM7.900 1.400h1.900V7H7.900z" fill="#222"/><path d="M14.300 3a5.800 5.800 0 0 1 8.400 0" fill="none" stroke="#222" stroke-width="1.300"/><path d="M16 4.800a3.500 3.500 0 0 1 5 0" fill="none" stroke="#222" stroke-width="1.300"/><circle cx="18.500" cy="6.400" r="0.900" fill="#222"/></svg>
<svg class="abs" style="left:758.500px;top:292px;width:6px;height:8px" viewBox="0 0 6 8"><path d="M4.500 0.700L1 3.700L4.500 6.700" fill="none" stroke="#3aa79a" stroke-width="0.900"/></svg>
<div class="abs" style="left:810.10px;top:292px;font-size:6.3px;line-height:7px;color:#222;font-weight:bold;white-space:nowrap;">Dashboard</div>
<div class="abs" style="left:758.00px;top:307px;font-size:6.9px;line-height:7px;color:#66563b;font-weight:normal;white-space:nowrap;letter-spacing:-0.05px;-webkit-text-stroke:0.200px #66563b">Revenue</div>
<div class="abs" style="left:621.40px;width:300px;text-align:center;top:333px;font-size:6.1px;line-height:7px;color:#4aa68b;font-weight:bold;white-space:nowrap;">39240</div>
<div class="abs" style="left:621.40px;width:300px;text-align:center;top:346px;font-size:5px;line-height:6px;color:#777;font-weight:normal;white-space:nowrap;">Rent</div>
<div class="abs" style="left:670.20px;width:300px;text-align:center;top:333px;font-size:6.1px;line-height:7px;color:#36b5d8;font-weight:bold;white-space:nowrap;">4200</div>
<div class="abs" style="left:670.20px;width:300px;text-align:center;top:346px;font-size:5px;line-height:6px;color:#777;font-weight:normal;white-space:nowrap;">Overdue</div>
<div class="abs" style="left:719.10px;width:300px;text-align:center;top:333px;font-size:6.1px;line-height:7px;color:#aa47d6;font-weight:bold;white-space:nowrap;">21720</div>
<div class="abs" style="left:719.10px;width:300px;text-align:center;top:346px;font-size:5px;line-height:6px;color:#777;font-weight:normal;white-space:nowrap;">Received</div>
<div class="abs" style="left:757.60px;top:381px;font-size:6.9px;line-height:7px;color:#66563b;font-weight:normal;white-space:nowrap;-webkit-text-stroke:0.200px #66563b">Complaints</div>
<div class="abs" style="left:622.10px;width:300px;text-align:center;top:407px;font-size:6.1px;line-height:7px;color:#4aa68b;font-weight:bold;white-space:nowrap;">12</div>
<div class="abs" style="left:622.10px;width:300px;text-align:center;top:420px;font-size:5px;line-height:6px;color:#777;font-weight:normal;white-space:nowrap;">Reported</div>
<div class="abs" style="left:671.00px;width:300px;text-align:center;top:407px;font-size:6.1px;line-height:7px;color:#36b5d8;font-weight:bold;white-space:nowrap;">12</div>
<div class="abs" style="left:671.00px;width:300px;text-align:center;top:420px;font-size:5px;line-height:6px;color:#777;font-weight:normal;white-space:nowrap;">Overdue</div>
<div class="abs" style="left:719.90px;width:300px;text-align:center;top:407px;font-size:6.1px;line-height:7px;color:#aa47d6;font-weight:bold;white-space:nowrap;">8</div>
<div class="abs" style="left:719.90px;width:300px;text-align:center;top:420px;font-size:5px;line-height:6px;color:#777;font-weight:normal;white-space:nowrap;">Completed</div>
<div class="abs" style="left:761.80px;top:467px;font-size:6.9px;line-height:7px;color:#5d4d35;font-weight:normal;white-space:nowrap;-webkit-text-stroke:0.200px #5d4d35">Quick Links</div>
<div class="abs" style="left:763.10px;top:489px;font-size:5.75px;line-height:6px;color:#5a4a30;font-weight:normal;white-space:nowrap;-webkit-text-stroke:0.200px #5a4a30">Add Property</div>
<div class="abs" style="left:763.10px;top:504px;font-size:5.75px;line-height:6px;color:#5a4a30;font-weight:normal;white-space:nowrap;-webkit-text-stroke:0.200px #5a4a30">Add Unit Details</div>
<div class="abs" style="left:763.10px;top:519px;font-size:5.75px;line-height:6px;color:#5a4a30;font-weight:normal;white-space:nowrap;-webkit-text-stroke:0.200px #5a4a30">Add New Tenants</div>
<div class="abs" style="left:763.10px;top:534px;font-size:5.75px;line-height:6px;color:#5a4a30;font-weight:normal;white-space:nowrap;-webkit-text-stroke:0.200px #5a4a30">Add Owner</div>
<div class="abs" style="left:763.10px;top:549px;font-size:5.75px;line-height:6px;color:#5a4a30;font-weight:normal;white-space:nowrap;-webkit-text-stroke:0.200px #5a4a30">Add Complaint</div>
</div>
</div>
<div class="abs" style="left:782.200px;top:262px;width:77.700px;height:14.750px;background:#48484a;border-radius:0 0 7.800px 7.800px"></div>
<div class="abs" style="left:812px;top:268px;width:19px;height:1.600px;background:#39393b;border-radius:1px"></div><div class="abs" style="left:836.600px;top:267.100px;width:3.400px;height:3.400px;border-radius:50%;background:#3a3a3c"></div>
</div></body></html>
